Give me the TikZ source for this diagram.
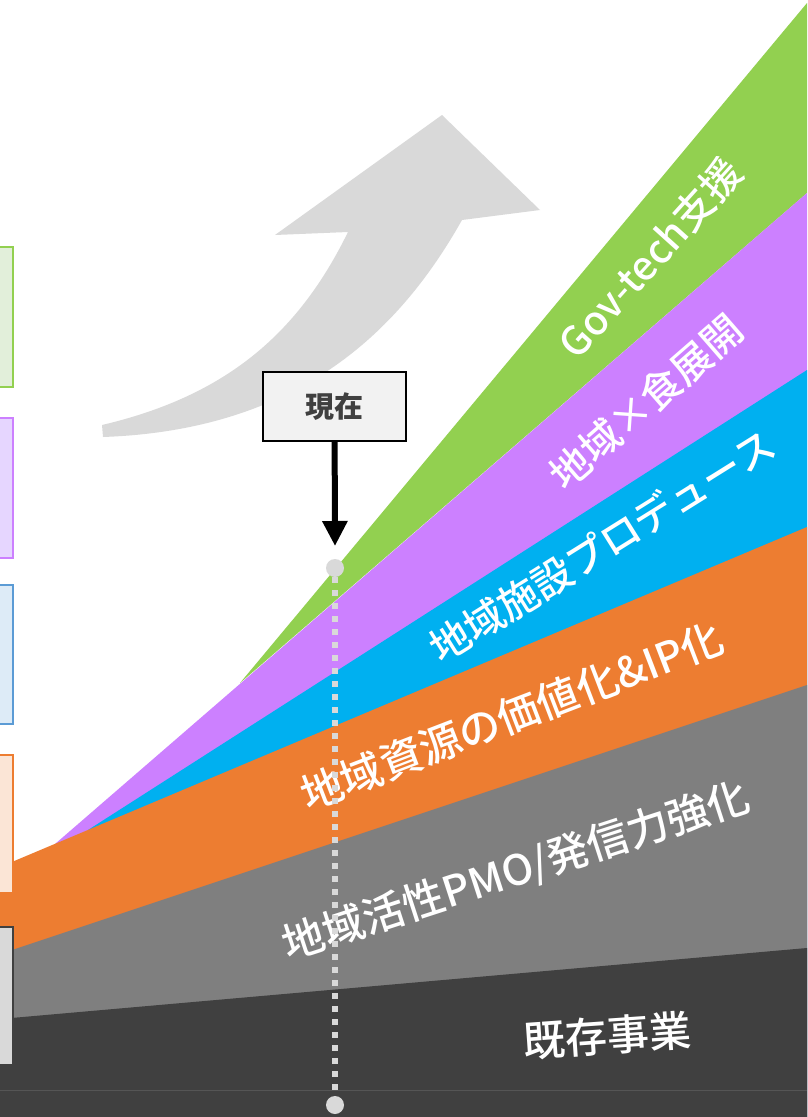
\documentclass[tikz,border=0pt]{standalone}
\usepackage{fontspec}
\newfontfamily\jp{Noto Sans CJK JP Medium}
\newfontfamily\jpb{Noto Sans CJK JP}
\usetikzlibrary{arrows.meta}
\definecolor{cgreen}{HTML}{92D050}
\definecolor{cpurple}{HTML}{CC80FF}
\definecolor{cblue}{HTML}{00B0F0}
\definecolor{corange}{HTML}{ED7D31}
\definecolor{cgray}{HTML}{7F7F7F}
\definecolor{cdark}{HTML}{404040}
\definecolor{clight}{HTML}{D9D9D9}
\definecolor{cboxbg}{HTML}{F2F2F2}
\definecolor{gfill}{HTML}{E2EFDA}
\definecolor{pfill}{HTML}{E6D6FF}
\definecolor{bborder}{HTML}{5B9BD5}
\definecolor{bfill}{HTML}{DDEBF7}
\definecolor{ofill}{HTML}{FBE5D6}
\definecolor{lineclr}{HTML}{555555}
\tikzset{
  legendbox/.style={line width=2pt},
  bandlabel/.style={text=white, inner sep=0pt, font=\jp\fontsize{#1}{#1}\selectfont},
  dotend/.style={circle, fill=clight, minimum size=18pt, inner sep=0pt},
  dotline/.style={draw=clight, line width=6pt, dash pattern=on 6pt off 7pt},
  nowbox/.style={draw=black, line width=2pt, fill=cboxbg, minimum width=143pt, minimum height=69pt, inner sep=0pt, text=cdark, font=\jpb\bfseries\fontsize{29}{29}\selectfont},
  nowarrow/.style={draw=black, line width=6pt, -{Triangle[width=24pt,length=25pt]}}
}
\begin{document}
\begin{tikzpicture}[x=1pt,y=-1pt]
\useasboundingbox (0,0) rectangle (807,1117);
\clip (0,0) rectangle (807,1117);
\fill[white] (0,0) rectangle (807,1117);
% big background arrow
\fill[clight] (102,425) .. controls (230,395) and (300,330) .. (348,232)
  -- (275,235) -- (442,115) -- (540,210) -- (462,220)
  .. controls (400,330) and (300,430) .. (103,437) -- cycle;
% bands
\fill[cgreen] (240,683) -- (807,3) -- (807,193) -- cycle;
\fill[cpurple] (55,844) -- (807,193) -- (807,1117) -- (55,1117) -- cycle;
\fill[cblue] (88,830) -- (807,370) -- (807,1117) -- (88,1117) -- cycle;
\fill[corange] (0,867) -- (807,527) -- (807,1117) -- (0,1117) -- cycle;
\fill[cgray] (0,954) -- (807,685) -- (807,1117) -- (0,1117) -- cycle;
\fill[cdark] (0,1019) -- (807,948) -- (807,1117) -- (0,1117) -- cycle;
\draw[lineclr, line width=1pt] (0,1090) -- (807,1090);
% legend boxes at left edge
\draw[legendbox, draw=cgreen, fill=gfill] (-20,247) rectangle (13,387);
\draw[legendbox, draw=cpurple, fill=pfill] (-20,418) rectangle (13,558);
\draw[legendbox, draw=bborder, fill=bfill] (-20,585) rectangle (13,724);
\draw[legendbox, draw=corange, fill=ofill] (-20,755) rectangle (13,893);
\draw[legendbox, draw=cdark, fill=clight] (-20,927) rectangle (13,1065);
% band labels
\node[bandlabel=40, rotate=48] (lgov) at (650,258) {Gov-tech支援};
\node[bandlabel=40, rotate=41] (lfood) at (646,402) {地域×食展開};
\node[bandlabel=40, rotate=32] (lfac) at (602,546) {地域施設プロデュース};
\node[bandlabel=42, rotate=21] (lres) at (512,716) {地域資源の価値化\&IP化};
\node[bandlabel=42, rotate=18] (lpmo) at (516,872) {地域活性PMO/発信力強化};
\node[bandlabel=42, rotate=4] (lexist) at (607,1036) {既存事業};
% now marker
\node[dotend] (topdot) at (335,568) {};
\node[dotend] (botdot) at (335,1105) {};
\draw[dotline] (topdot) -- (botdot);
\node[nowbox] (now) at (334.5,406.5) {現在};
\coordinate (tip) at (335,546);
\draw[nowarrow] (now) -- (tip);
\end{tikzpicture}
\end{document}
